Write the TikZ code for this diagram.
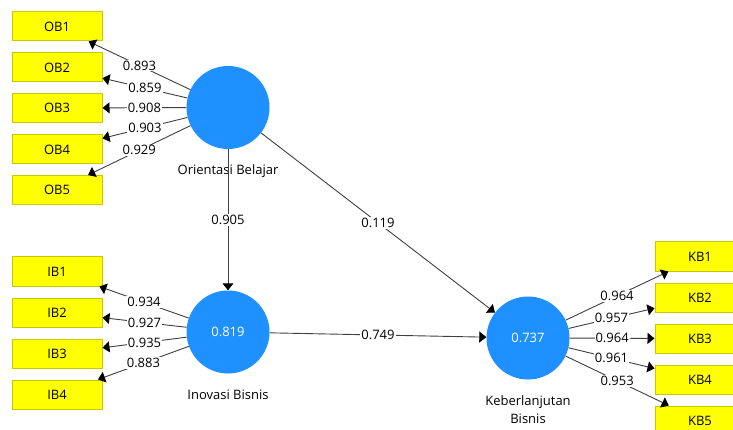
\documentclass[tikz,border=0pt]{standalone}
\usepackage{fontspec}
\setmainfont{Open Sans}
\usetikzlibrary{arrows.meta}
\definecolor{lvblue}{HTML}{1E90FF}
\definecolor{indyellow}{HTML}{FFFF00}
\definecolor{indborder}{HTML}{C8C800}
\begin{document}
\begin{tikzpicture}[x=1pt,y=-1pt,
  font=\fontsize{13}{18}\selectfont,
  ind/.style={draw=indborder,fill=indyellow,line width=1pt,minimum width=90pt,minimum height=29pt,inner sep=0pt},
  lv/.style={circle,fill=lvblue,minimum size=83pt,inner sep=0pt,text=white},
  link/.style={draw=black!75,line width=0.9pt,-{Triangle[width=11pt,length=7pt,color=black]}},
  coef/.style={fill=white,inner sep=1pt,pos=0.5}]
\useasboundingbox (0,0) rectangle (733,430);
\fill[white] (0,0) rectangle (733,430);
\clip (0,0) rectangle (733,430);

\node[lv] (ob) at (228,107.5) {};
\node[lv] (ib) at (228,332) {0.819};
\node[lv] (kb) at (528,338) {0.737};

\node (oblab) at (228,171) {Orientasi Belajar};
\node (iblab) at (228,395) {Inovasi Bisnis};
\node[align=center] (kblab) at (528,410) {Keberlanjutan\\Bisnis};

\node[ind] (ob1) at (57,26.5) {OB1};
\node[ind] (ob2) at (57,67.5) {OB2};
\node[ind] (ob3) at (57,108) {OB3};
\node[ind] (ob4) at (57,149.5) {OB4};
\node[ind] (ob5) at (57,190) {OB5};

\node[ind] (ib1) at (57,271.5) {IB1};
\node[ind] (ib2) at (57,312.5) {IB2};
\node[ind] (ib3) at (57,353.5) {IB3};
\node[ind] (ib4) at (57,394.5) {IB4};

\node[ind] (kb1) at (700,256.5) {KB1};
\node[ind] (kb2) at (700,297.5) {KB2};
\node[ind] (kb3) at (700,338.5) {KB3};
\node[ind] (kb4) at (700,379.5) {KB4};
\node[ind] (kb5) at (700,420.5) {KB5};

\draw[link] (ob) -- node[coef] {0.893} (ob1);
\draw[link] (ob) -- node[coef] {0.859} (ob2);
\draw[link] (ob) -- node[coef] {0.908} (ob3);
\draw[link] (ob) -- node[coef] {0.903} (ob4);
\draw[link] (ob) -- node[coef] {0.929} (ob5);

\draw[link] (ib) -- node[coef] {0.934} (ib1);
\draw[link] (ib) -- node[coef] {0.927} (ib2);
\draw[link] (ib) -- node[coef] {0.935} (ib3);
\draw[link] (ib) -- node[coef] {0.883} (ib4);

\draw[link] (kb) -- node[coef] {0.964} (kb1);
\draw[link] (kb) -- node[coef] {0.957} (kb2);
\draw[link] (kb) -- node[coef] {0.964} (kb3);
\draw[link] (kb) -- node[coef] {0.961} (kb4);
\draw[link] (kb) -- node[coef] {0.953} (kb5);

\draw[link] (ob) -- node[coef] {0.905} (ib);
\draw[link] (ob) -- node[coef] {0.119} (kb);
\draw[link] (ib) -- node[coef] {0.749} (kb);
\end{tikzpicture}
\end{document}
